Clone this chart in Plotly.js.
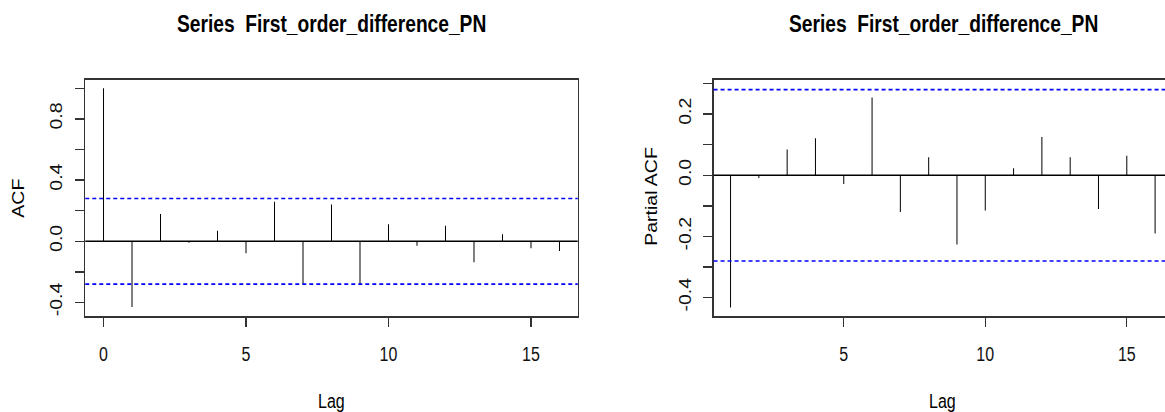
<!DOCTYPE html>
<html>
<head>
<meta charset="utf-8">
<script src="https://cdn.plot.ly/plotly-3.0.1.min.js"></script>
<style>
  html, body { margin: 0; padding: 0; overflow: hidden; background: #fff; width: 1165px; height: 412px; }
  #wrap { width: 1165px; height: 412px; position: relative; overflow: hidden; }
  #chart { width: 1165px; height: 338px; transform: scaleY(1.2189); transform-origin: 0 0; }
</style>
</head>
<body>
<div id="wrap"><div id="chart"></div></div>
<script>
// ---- data ----
const seriesTitle = "Series  First_order_difference_PN";
const acfLags   = [0, 1, 2, 3, 4, 5, 6, 7, 8, 9, 10, 11, 12, 13, 14, 15, 16];
const acfValues = [1.0, -0.43, 0.178, -0.009, 0.069, -0.078, 0.258, -0.279, 0.241, -0.279, 0.111, -0.029, 0.102, -0.137, 0.046, -0.046, -0.063];
const pacfLags   = [1, 2, 3, 4, 5, 6, 7, 8, 9, 10, 11, 12, 13, 14, 15, 16];
const pacfValues = [-0.432, -0.009, 0.084, 0.121, -0.028, 0.254, -0.12, 0.059, -0.226, -0.115, 0.023, 0.125, 0.059, -0.110, 0.064, -0.19];
const ciLimit = [0.28];
const xTickVals = [0, 5, 10, 15];
const xTickText = ["0", "5", "10", "15"];
const acfTickVals = [-0.4, -0.2, 0.0, 0.2, 0.4, 0.6, 0.8, 1.0];
const acfTickText = ["-0.4", "", "0.0", "", "0.4", "", "0.8", ""];
const pacfTickVals = [-0.4, -0.3, -0.2, -0.1, 0.0, 0.1, 0.2, 0.3];
const pacfTickText = ["-0.4", "", "-0.2", "", "0.0", "", "0.2", ""];

function spikes(lags, vals, xa, ya) {
  const x = [], y = [];
  lags.forEach((l, i) => { x.push(l, l, null); y.push(0, vals[i], null); });
  return { x, y, xaxis: xa, yaxis: ya, type: 'scatter', mode: 'lines',
           line: { color: '#000', width: 1 }, hoverinfo: 'skip', showlegend: false };
}

const FONT = "Liberation Sans, Arial, sans-serif";
const axisCommon = {
  showline: true, linecolor: '#333', linewidth: 1.5, showgrid: false, zeroline: false,
  ticks: 'outside', tickcolor: '#333', tickwidth: 1.2, ticklabeloverflow: 'allow',
  tickfont: { family: FONT, size: 16, color: '#111' }, fixedrange: true
};

const yDom = [0.2335, 0.807];
const layout = {
  width: 1165, height: 338,
  margin: { l: 0, r: 0, t: 0, b: 0 },
  paper_bgcolor: '#fff', plot_bgcolor: '#fff',
  showlegend: false,
  xaxis: Object.assign({}, axisCommon, {
    domain: [0.0732, 0.4959], range: [-0.64, 16.64], mirror: true,
    tickmode: 'array', tickvals: xTickVals, ticktext: xTickText, ticklen: 8, ticklabelstandoff: 8, anchor: 'y'
  }),
  yaxis: Object.assign({}, axisCommon, {
    domain: yDom, range: [-0.487, 1.057], mirror: true,
    tickmode: 'array', tickvals: acfTickVals, ticktext: acfTickText, ticklen: 9, tickangle: -90, ticklabelstandoff: 6, anchor: 'x'
  }),
  xaxis2: Object.assign({}, axisCommon, {
    domain: [0.6125, 1.0], range: [0.4, 16.35], mirror: true,
    tickmode: 'array', tickvals: xTickVals, ticktext: xTickText, ticklen: 8, ticklabelstandoff: 8, anchor: 'y2'
  }),
  yaxis2: Object.assign({}, axisCommon, {
    domain: yDom, range: [-0.459, 0.313], mirror: false,
    tickmode: 'array', tickvals: pacfTickVals, ticktext: pacfTickText, ticklen: 9, tickangle: -90, ticklabelstandoff: 6, anchor: 'x2'
  }),
  shapes: [],
  annotations: []
};

// zero lines and confidence bounds
[['x', 'y'], ['x2', 'y2']].forEach(([xa, ya]) => {
  layout.shapes.push({ type: 'line', xref: xa + ' domain', yref: ya, x0: 0, x1: 1, y0: 0, y1: 0,
                       line: { color: '#000', width: 1.2 } });
  [ciLimit[0], -ciLimit[0]].forEach(v => layout.shapes.push({
    type: 'line', xref: xa + ' domain', yref: ya, x0: 0, x1: 1, y0: v, y1: v,
    line: { color: '#0000ff', width: 1.3, dash: '4px,3px' } }));
});

function ann(text, x, y, size, angle, bold) {
  return { text: bold ? '<b>' + text + '</b>' : text, xref: 'paper', yref: 'paper', x, y,
           xanchor: 'center', yanchor: 'middle', showarrow: false, textangle: angle || 0,
           font: { family: FONT, size, color: '#000' } };
}
layout.annotations.push(
  ann(seriesTitle, 0.2845, 0.943, 19.2, 0, true),
  ann(seriesTitle, 0.8095, 0.943, 19.2, 0, true),
  ann('Lag', 0.2845, 0.025, 16),
  ann('Lag', 0.8087, 0.025, 16),
  ann('ACF', 0.0163, 0.519, 16, -90),
  ann('Partial ACF', 0.5597, 0.522, 16, -90)
);

const data = [
  spikes(acfLags, acfValues, 'x', 'y'),
  spikes(pacfLags, pacfValues, 'x2', 'y2')
];

Plotly.newPlot('chart', data, layout, { staticPlot: true, displayModeBar: false });
</script>
</body>
</html>
